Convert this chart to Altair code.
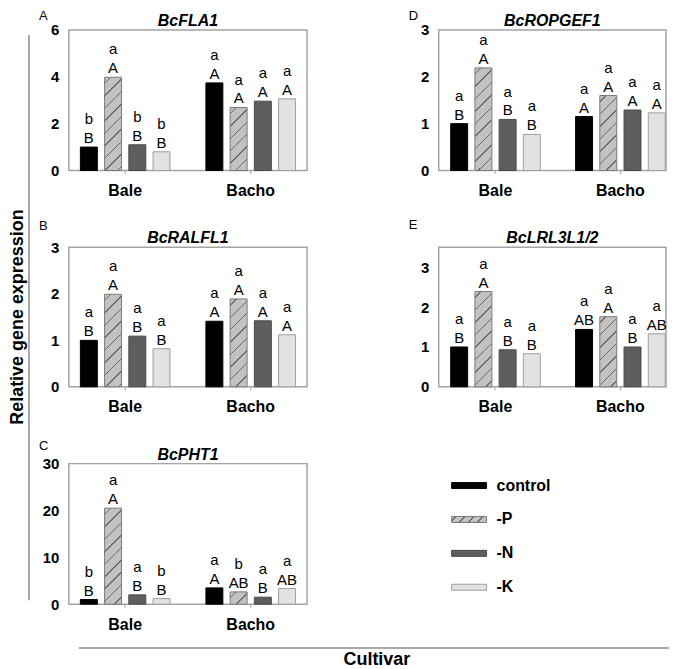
import altair as alt

FONT = "Liberation Sans"

cultivars = ["Bale", "Bacho"]
treatments = ["control", "-P", "-N", "-K"]

genes = ["BcFLA1", "BcRALFL1", "BcPHT1", "BcROPGEF1", "BcLRL3L1/2"]
panel_tags = ["A", "B", "C", "D", "E"]

# order: Bale (control, -P, -N, -K), Bacho (control, -P, -N, -K)
fla1_values = [1.00, 3.98, 1.10, 0.80, 3.74, 2.69, 2.96, 3.06]
ralfl1_values = [1.00, 1.99, 1.09, 0.82, 1.41, 1.89, 1.42, 1.12]
pht1_values = [1.00, 20.5, 2.00, 1.20, 3.48, 2.63, 1.50, 3.34]
ropgef1_values = [1.00, 2.19, 1.09, 0.77, 1.15, 1.60, 1.29, 1.23]
lrl3_values = [1.00, 2.39, 0.93, 0.83, 1.44, 1.76, 1.00, 1.33]

fla1_lower = ["b", "a", "b", "b", "a", "a", "a", "a"]
fla1_upper = ["B", "A", "B", "B", "A", "A", "A", "A"]
ralfl1_lower = ["a", "a", "a", "a", "a", "a", "a", "a"]
ralfl1_upper = ["B", "A", "B", "B", "A", "A", "A", "A"]
pht1_lower = ["b", "a", "a", "b", "a", "b", "a", "a"]
pht1_upper = ["B", "A", "B", "B", "A", "AB", "B", "AB"]
ropgef1_lower = ["a", "a", "a", "a", "a", "a", "a", "a"]
ropgef1_upper = ["B", "A", "B", "B", "A", "A", "A", "A"]
lrl3_lower = ["a", "a", "a", "a", "a", "a", "a", "a"]
lrl3_upper = ["B", "A", "B", "B", "AB", "A", "B", "AB"]

y_max = [6, 3, 30, 3, 3.5]
y_ticks = [[0, 2, 4, 6], [0, 1, 2, 3], [0, 10, 20, 30], [0, 1, 2, 3], [0, 1, 2, 3]]

series = [fla1_values, ralfl1_values, pht1_values, ropgef1_values, lrl3_values]
lowers = [fla1_lower, ralfl1_lower, pht1_lower, ropgef1_lower, lrl3_lower]
uppers = [fla1_upper, ralfl1_upper, pht1_upper, ropgef1_upper, lrl3_upper]

solid = {"control": "#000000", "-N": "#5e5e5e", "-K": "#e2e2e2"}
strokes = {"control": "#000000", "-P": "#7a7a7a", "-N": "#4a4a4a", "-K": "#9e9e9e"}

OFF_PAD = 0.3
dummy = alt.Data(values=[{"d": 0}])


def hatch(w, h, period, thick=1.5, base="#c2c2c2", line="#6b6b6b"):
    L = w + h
    k = L / (w * w + h * h)
    stops = [{"offset": 0.0, "color": base}]
    c = period * 0.5
    while c - thick / 2 < L:
        a = round(max(0.0, (c - thick / 2) / L), 5)
        b = round(min(1.0, (c + thick / 2) / L), 5)
        stops += [
            {"offset": a, "color": base},
            {"offset": a, "color": line},
            {"offset": b, "color": line},
            {"offset": b, "color": base},
        ]
        c += period
    stops.append({"offset": 1.0, "color": base})
    return {"gradient": "linear", "x1": 0, "y1": 0,
            "x2": round(w * k, 5), "y2": round(h * k, 5), "stops": stops}


def panel(i, width, height, pin, pout, align, tag_y, extra=()):
    vals = series[i]
    ymax = y_max[i]
    step = width / (2 - pin + 2 * pout)
    bar_w = step * (1 - pin) / (4 - OFF_PAD) * (1 - OFF_PAD)
    rows = []
    for j in range(8):
        cv = cultivars[j // 4]
        tr = treatments[j % 4]
        v = vals[j]
        if tr == "-P":
            fill = hatch(bar_w, v / ymax * height, 12.5)
        else:
            fill = solid[tr]
        rows.append({"cultivar": cv, "treatment": tr, "value": v,
                     "upper": uppers[i][j], "lower": lowers[i][j],
                     "fill": fill, "stroke": strokes[tr]})
    base = alt.Chart(alt.Data(values=rows)).encode(
        x=alt.X("cultivar:N", sort=cultivars,
                scale=alt.Scale(paddingInner=pin, paddingOuter=pout, align=align),
                axis=alt.Axis(title=None, labelAngle=0)),
        xOffset=alt.XOffset("treatment:N", sort=treatments,
                            scale=alt.Scale(paddingInner=OFF_PAD, paddingOuter=0)),
        y=alt.Y("value:Q", scale=alt.Scale(domain=[0, ymax], nice=False, zero=True),
                axis=alt.Axis(title=None, values=y_ticks[i])),
    )
    bars = base.mark_bar(strokeWidth=1).encode(
        fill=alt.Fill("fill:N", scale=None),
        stroke=alt.Stroke("stroke:N", scale=None),
    )
    up = base.mark_text(fontSize=15, dy=-4, baseline="alphabetic", color="black").encode(text="upper:N")
    lo = base.mark_text(fontSize=15, dy=-23, baseline="alphabetic", color="black").encode(text="lower:N")
    tag = alt.Chart(dummy).mark_text(
        text=panel_tags[i], align="left", baseline="top", fontSize=13, color="black"
    ).encode(x=alt.value(-30), y=alt.value(tag_y))
    title = alt.Chart(dummy).mark_text(
        text=genes[i], align="center", baseline="alphabetic", fontSize=16,
        fontStyle="italic", fontWeight="bold", color="black"
    ).encode(x=alt.value(width / 2), y=alt.value(-4))
    return alt.layer(bars, up, lo, tag, title, *extra).properties(width=width, height=height)


# decorations: shared y title with its line, shared x title with its line
ytitle = alt.Chart(dummy).mark_text(
    text="Relative gene expression", angle=270, align="center", baseline="middle",
    fontSize=18, fontWeight="bold", color="black"
).encode(x=alt.value(-51), y=alt.value(70))
yline = alt.Chart(dummy).mark_rule(color="#8c8c8c", strokeWidth=1.5).encode(
    x=alt.value(-40), y=alt.value(-213), y2=alt.value(354))
xline = alt.Chart(dummy).mark_rule(color="#8c8c8c", strokeWidth=1.5).encode(
    x=alt.value(10), x2=alt.value(602), y=alt.value(185))
xtitle = alt.Chart(dummy).mark_text(
    text="Cultivar", fontSize=18, fontWeight="bold", align="center",
    baseline="alphabetic", color="black"
).encode(x=alt.value(309), y=alt.value(202))

W1, W2 = 239, 228
pA = panel(0, W1, 141, 0.286, 0.092, 0.5, -20)
pB = panel(1, W1, 140, 0.286, 0.092, 0.5, -27, extra=(ytitle, yline))
pC = panel(2, W1, 141, 0.286, 0.092, 0.5, -24, extra=(xline, xtitle))
pD = panel(3, W2, 141, 0.284, 0.052, 0.923, -20)
pE = panel(4, W2, 140, 0.284, 0.052, 0.923, -28)

# legend
leg_rows = []
for tr in treatments:
    f = hatch(35, 6, 9) if tr == "-P" else solid[tr]
    leg_rows.append({"treatment": tr, "fill": f, "stroke": strokes[tr]})
leg_base = alt.Chart(alt.Data(values=leg_rows)).encode(
    y=alt.Y("treatment:N", sort=treatments, axis=None,
            scale=alt.Scale(paddingInner=0, paddingOuter=0.147)))
leg_sw = leg_base.mark_bar(orient="horizontal", size=6, strokeWidth=1).encode(
    x=alt.value(13), x2=alt.value(48),
    fill=alt.Fill("fill:N", scale=None), stroke=alt.Stroke("stroke:N", scale=None))
leg_tx = leg_base.mark_text(align="left", baseline="middle", fontSize=16,
                            fontWeight="bold", color="black").encode(
    x=alt.value(58), text="treatment:N")
leg = alt.layer(leg_sw, leg_tx).properties(
    width=W2, height=146, view=alt.ViewBackground(stroke="transparent", strokeWidth=0))

chart = alt.concat(
    pA, pD, pB, pE, pC, leg,
    columns=2, spacing={"row": 77, "column": 132}, bounds="flush", align="each",
).properties(padding=0).configure(font=FONT).configure_view(
    stroke="#a3a3a3", strokeWidth=1.5
).configure_axisX(
    labelFontSize=16, labelFontWeight="bold", labelColor="black", tickSize=3,
    tickColor="#a3a3a3", tickWidth=1, domain=False, labelPadding=9, grid=False,
).configure_axisY(
    labelFontSize=15, labelFontWeight="bold", labelColor="black", ticks=False,
    tickSize=0, domain=False, labelPadding=10, grid=False,
)

chart.save("out.html", embed_options={"renderer": "svg", "actions": False})
